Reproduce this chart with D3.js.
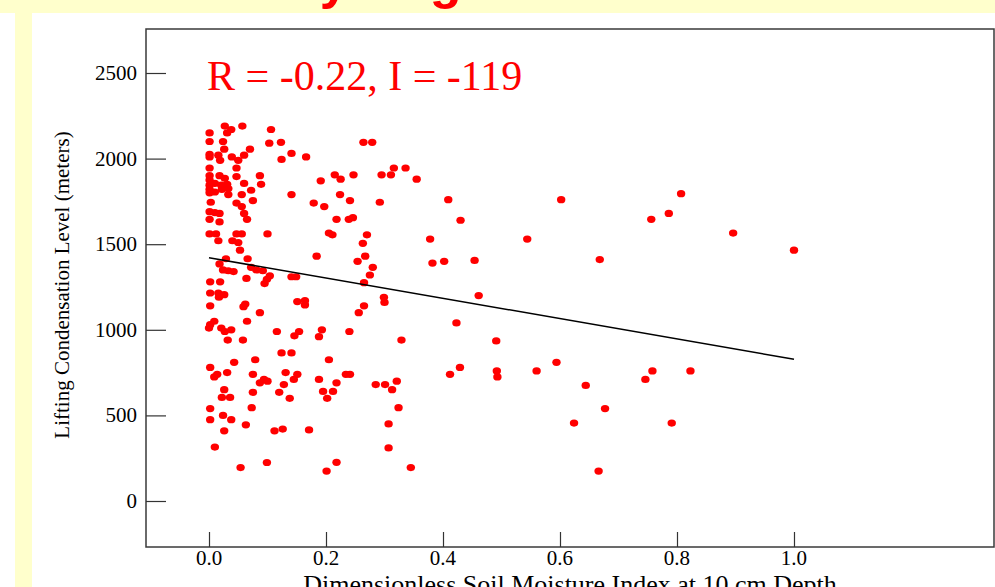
<!DOCTYPE html>
<html>
<head>
<meta charset="utf-8">
<script src="https://cdn.jsdelivr.net/npm/d3@7"></script>
<style>
  html, body { margin: 0; padding: 0; background: #ffffff; overflow: hidden; }
  svg { display: block; }
</style>
</head>
<body>
<svg id="chart" width="995" height="587"></svg>
<script>
// Soil moisture index (10 cm) against lifting condensation level, one point per day
const soilMoisture = [
  0.027, 0.038, 0.057, 0.031, 0.001, 0.106, 0.001, 0.024, 0.103, 0.123,
  0.026, 0.070, 0.001, 0.001, 0.016, 0.019, 0.039, 0.050, 0.060, 0.124,
  0.141, 0.001, 0.047, 0.001, 0.001, 0.018, 0.027, 0.047, 0.087, 0.001,
  0.010, 0.021, 0.031, 0.060, 0.089, 0.001, 0.001, 0.010, 0.022, 0.033,
  0.033, 0.056, 0.072, 0.141, 0.075, 0.003, 0.047, 0.056, 0.001, 0.010,
  0.018, 0.060, 0.001, 0.018, 0.065, 0.001, 0.012, 0.047, 0.056, 0.100,
  0.016, 0.040, 0.050, 0.053, 0.029, 0.066, 0.018, 0.072, 0.081, 0.092,
  0.024, 0.033, 0.042, 0.104, 0.099, 0.095, 0.141, 0.149, 0.064, 0.002,
  0.019, 0.002, 0.016, 0.017, 0.026, 0.002, 0.062, 0.059, 0.087, 0.009,
  0.002, 0.000, 0.065, 0.021, 0.027, 0.038, 0.116, 0.146, 0.032, 0.058,
  0.124, 0.141, 0.079, 0.043, 0.002, 0.014, 0.009, 0.031, 0.075, 0.087,
  0.094, 0.100, 0.131, 0.128, 0.145, 0.026, 0.022, 0.036, 0.075, 0.120,
  0.138, 0.002, 0.073, 0.024, 0.038, 0.002, 0.063, 0.026, 0.112, 0.126,
  0.010, 0.099, 0.054, 0.264, 0.279, 0.166, 0.316, 0.336, 0.215, 0.225,
  0.247, 0.295, 0.311, 0.191, 0.355, 0.224, 0.179, 0.197, 0.241, 0.292,
  0.218, 0.239, 0.246, 0.205, 0.211, 0.270, 0.263, 0.184, 0.267, 0.254,
  0.280, 0.275, 0.265, 0.299, 0.300, 0.151, 0.164, 0.164, 0.265, 0.256,
  0.154, 0.193, 0.188, 0.240, 0.329, 0.205, 0.151, 0.188, 0.218, 0.234,
  0.241, 0.285, 0.301, 0.321, 0.313, 0.195, 0.212, 0.202, 0.324, 0.171,
  0.307, 0.307, 0.218, 0.201, 0.345, 0.409, 0.602, 0.807, 0.786, 0.756,
  0.896, 1.000, 0.430, 0.378, 0.544, 0.382, 0.402, 0.454, 0.668, 0.461,
  0.423, 0.491, 0.594, 0.429, 0.412, 0.492, 0.493, 0.560, 0.758, 0.746,
  0.823, 0.644, 0.677, 0.624, 0.791, 0.666
];
const lclMeters = [
  2190, 2170, 2190, 2150, 2150, 2170, 2100, 2100, 2090, 2095,
  2055, 2055, 2025, 2010, 2020, 1990, 2010, 1990, 2020, 1995,
  2030, 1945, 1945, 1900, 1875, 1900, 1885, 1895, 1900, 1845,
  1855, 1845, 1850, 1855, 1850, 1820, 1800, 1805, 1820, 1825,
  1790, 1790, 1815, 1790, 1755, 1745, 1740, 1720, 1690, 1685,
  1680, 1680, 1645, 1630, 1645, 1560, 1560, 1560, 1560, 1560,
  1520, 1520, 1510, 1465, 1415, 1415, 1385, 1365, 1350, 1345,
  1350, 1345, 1340, 1315, 1295, 1270, 1310, 1310, 1300, 1280,
  1280, 1215, 1215, 1190, 1205, 1140, 1150, 1135, 1100, 1050,
  1030, 1010, 1050, 1010, 990, 1000, 990, 965, 940, 940,
  865, 865, 825, 810, 780, 740, 725, 750, 740, 690,
  710, 700, 750, 680, 710, 650, 605, 605, 635, 635,
  600, 540, 545, 500, 475, 475, 445, 410, 410, 420,
  315, 225, 195, 2095, 2095, 2010, 1945, 1945, 1905, 1880,
  1905, 1905, 1905, 1870, 1880, 1790, 1740, 1720, 1755, 1745,
  1645, 1645, 1655, 1565, 1555, 1555, 1505, 1430, 1430, 1400,
  1365, 1320, 1275, 1190, 1160, 1165, 1170, 1145, 1140, 1100,
  990, 1000, 960, 990, 940, 825, 740, 710, 690, 740,
  740, 680, 680, 700, 650, 640, 640, 600, 545, 415,
  450, 310, 226, 175, 195, 1760, 1760, 1795, 1680, 1645,
  1565, 1465, 1640, 1530, 1530, 1390, 1400, 1405, 1410, 1200,
  1040, 935, 810, 780, 740, 760, 725, 760, 760, 710,
  760, 675, 540, 455, 455, 175
];
const points = soilMoisture.map((s, i) => ({ s, lcl: lclMeters[i] }));

// Least-squares fit line endpoints
const fitX = [0, 1];
const fitY = [1421, 828];

const xTicks = [0, 0.2, 0.4, 0.6, 0.8, 1.0];
const yTicks = [0, 500, 1000, 1500, 2000, 2500];

const statsLabel = "R = -0.22, I = -119";
const xTitle = "Dimensionless Soil Moisture Index at 10 cm Depth";
const yTitle = "Lifting Condensation Level (meters)";
const slideTitle = "Dry Regime";

const W = 995, H = 587;
const plot = { left: 146, right: 994, top: 29, bottom: 547 };

const svg = d3.select("#chart");

// Slide background: yellow title band and side strip, white content panel
svg.append("rect").attr("x", 0).attr("y", 0).attr("width", W).attr("height", H).attr("fill", "#ffffff");
svg.append("rect").attr("x", 0).attr("y", 0).attr("width", W).attr("height", 13).attr("fill", "#ffffcc");
svg.append("rect").attr("x", 15).attr("y", 13).attr("width", 17).attr("height", H - 13).attr("fill", "#ffffcc");
svg.append("text")
  .attr("x", 262).attr("y", -2)
  .attr("font-family", "Liberation Sans, Arial, sans-serif")
  .attr("font-weight", "bold").attr("font-size", 52)
  .attr("fill", "#ff0000")
  .text(slideTitle);

const x = d3.scaleLinear().domain([-0.1077, 1.3419]).range([plot.left, plot.right]);
const y = d3.scaleLinear().domain([-268.7, 2757]).range([plot.bottom, plot.top]);

const serif = "Liberation Serif, Times New Roman, serif";

// Frame
svg.append("rect")
  .attr("x", plot.left).attr("y", plot.top)
  .attr("width", plot.right - plot.left).attr("height", plot.bottom - plot.top)
  .attr("fill", "#ffffff").attr("stroke", "#3a3a3a").attr("stroke-width", 1.5);

// Y axis: ticks point inward from the left edge
const yAxis = d3.axisRight(y).tickValues(yTicks).tickSize(20).tickFormat("");
const gy = svg.append("g").attr("transform", `translate(${plot.left},0)`).call(yAxis);
gy.select(".domain").remove();
gy.selectAll(".tick line").attr("stroke", "#333").attr("stroke-width", 1.2);
svg.append("g").selectAll("text").data(yTicks).join("text")
  .attr("x", 137).attr("y", d => y(d) + 7)
  .attr("text-anchor", "end")
  .attr("font-family", serif).attr("font-size", 21).attr("fill", "#000")
  .text(d => d);

// X axis: ticks point up from the bottom edge
const xAxis = d3.axisTop(x).tickValues(xTicks).tickSize(15).tickFormat("");
const gx = svg.append("g").attr("transform", `translate(0,${plot.bottom})`).call(xAxis);
gx.select(".domain").remove();
gx.selectAll(".tick line").attr("stroke", "#333").attr("stroke-width", 1.2);
svg.append("g").selectAll("text").data(xTicks).join("text")
  .attr("x", d => x(d)).attr("y", 565)
  .attr("text-anchor", "middle")
  .attr("font-family", serif).attr("font-size", 21).attr("fill", "#000")
  .text(d3.format(".1f"));

// Axis titles
svg.append("text")
  .attr("transform", "translate(69,285) rotate(-90)")
  .attr("text-anchor", "middle")
  .attr("font-family", serif).attr("font-size", 21).attr("fill", "#000")
  .text(yTitle);
svg.append("text")
  .attr("x", 570).attr("y", 593)
  .attr("text-anchor", "middle")
  .attr("font-family", serif).attr("font-size", 26).attr("fill", "#000")
  .text(xTitle);

// Scatter points
svg.append("g").selectAll("ellipse").data(points).join("ellipse")
  .attr("cx", d => x(d.s)).attr("cy", d => y(d.lcl))
  .attr("rx", 4.2).attr("ry", 3.6)
  .attr("fill", "#ff0000");

// Regression line
svg.append("line")
  .attr("x1", x(fitX[0])).attr("y1", y(fitY[0]))
  .attr("x2", x(fitX[1])).attr("y2", y(fitY[1]))
  .attr("stroke", "#000").attr("stroke-width", 1.5);

// Correlation and intercept annotation
svg.append("text")
  .attr("x", 207).attr("y", 90)
  .attr("font-family", serif).attr("font-size", 42).attr("fill", "#ff0000")
  .text(statsLabel);
</script>
</body>
</html>
